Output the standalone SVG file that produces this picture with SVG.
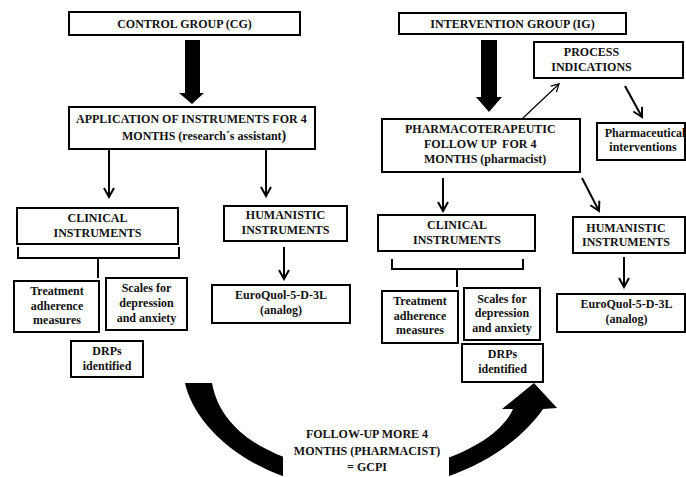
<svg xmlns="http://www.w3.org/2000/svg" width="686" height="477" viewBox="0 0 686 477">
<style>
.box{fill:#fff;stroke:#000;stroke-width:2}
.t{font-family:'Liberation Serif',Tinos,'Times New Roman',Times,'DejaVu Serif',serif;font-weight:700;font-size:12px;fill:#111;text-anchor:middle}
.s{text-anchor:start;white-space:pre}
.ln{fill:none;stroke:#000;stroke-width:2}
.thin{fill:none;stroke:#000;stroke-width:1.2}
.blk{fill:#000;stroke:none}
</style>
<defs>
<marker id="ah" viewBox="0 0 12 12" refX="10" refY="6" markerWidth="12" markerHeight="12" markerUnits="userSpaceOnUse" orient="auto">
<path d="M1,1 L10,6 L1,11" fill="none" stroke="#000" stroke-width="2"/>
</marker>
<marker id="ahs" viewBox="0 0 12 12" refX="10" refY="6" markerWidth="10" markerHeight="10" markerUnits="userSpaceOnUse" orient="auto">
<path d="M1,1 L10,6 L1,11" fill="none" stroke="#000" stroke-width="1.5"/>
</marker>
</defs>
<rect width="686" height="477" fill="#fff"/>

<g id="connectors">
<path class="blk" d="M185,40 H200 V93 H204 L192,104 L179,93 H185 Z"/>
<path class="blk" d="M481,40 H497 V97 H502 L489,112 L476,97 H481 Z"/>
<line class="ln" x1="109" y1="149" x2="109" y2="197" marker-end="url(#ah)"/>
<line class="ln" x1="266" y1="149" x2="266" y2="196" marker-end="url(#ah)"/>
<line class="ln" x1="284" y1="247" x2="284" y2="279" marker-end="url(#ah)"/>
<path class="ln" d="M18,247 V258 H179 V247 M98,258 V278"/>
<line class="ln" x1="443" y1="178" x2="443" y2="211" marker-end="url(#ah)"/>
<line class="ln" x1="582" y1="178" x2="599" y2="211" marker-end="url(#ah)"/>
<line class="ln" x1="624" y1="257" x2="624" y2="287" marker-end="url(#ah)"/>
<path class="ln" d="M392,259 V269 H523 V259 M457,269 V287"/>
<line class="thin" x1="522" y1="119" x2="559" y2="84" marker-end="url(#ahs)"/>
<line class="ln" x1="625" y1="86" x2="642" y2="117" marker-end="url(#ah)"/>
<path class="blk" d="M185,383 C195,430 260,490 365,490 C450,490 515,450 543,409 L557,408 L534,383 L502,409 L513,409 C500,440 440,472 365,472 C290,470 222,440 212,383 Z"/>
</g>

<g id="cg">
<rect class="box" x="69" y="12" width="231" height="23"/>
<text class="t" x="184.5" y="28">CONTROL GROUP (CG)</text>
</g>
<g id="ig">
<rect class="box" x="399" y="13" width="227" height="21"/>
<text class="t" x="512.5" y="28">INTERVENTION GROUP (IG)</text>
</g>
<g id="application">
<rect class="box" x="69" y="107" width="246" height="42"/>
<text class="t s" x="76" y="123">APPLICATION OF INSTRUMENTS FOR 4</text>
<text class="t s" x="122" y="140">MONTHS (research´s assistant<tspan font-size="14">)</tspan></text>
</g>
<g id="cg-clinical">
<rect class="box" x="17" y="208" width="161" height="36"/>
<text class="t" x="97.5" y="222">CLINICAL</text>
<text class="t" x="97.5" y="237">INSTRUMENTS</text>
</g>
<g id="cg-treatment">
<rect class="box" x="14" y="281" width="85" height="51"/>
<text class="t" x="57" y="295">Treatment</text>
<text class="t" x="57" y="309.5">adherence</text>
<text class="t" x="57" y="324">measures</text>
</g>
<g id="cg-scales">
<rect class="box" x="106" y="278" width="81" height="52"/>
<text class="t" x="146.5" y="292">Scales for</text>
<text class="t" x="146.5" y="307">depression</text>
<text class="t" x="146.5" y="322">and anxiety</text>
</g>
<g id="cg-drps">
<rect class="box" x="71" y="341" width="72" height="36"/>
<text class="t" x="107" y="355">DRPs</text>
<text class="t" x="107" y="370">identified</text>
</g>
<g id="cg-humanistic">
<rect class="box" x="224" y="206" width="123" height="35"/>
<text class="t" x="285.5" y="219">HUMANISTIC</text>
<text class="t" x="285.5" y="234">INSTRUMENTS</text>
</g>
<g id="cg-euroquol">
<rect class="box" x="212" y="285" width="138" height="38"/>
<text class="t" x="281" y="299">EuroQuol-5-D-3L</text>
<text class="t" x="281" y="314">(analog)</text>
</g>
<g id="process">
<rect class="box" x="534" y="42" width="149" height="36"/>
<text class="t" x="591.5" y="56">PROCESS</text>
<text class="t" x="591.5" y="71">INDICATIONS</text>
</g>
<g id="pharmaco">
<rect class="box" x="382" y="119" width="198" height="53"/>
<text class="t s" x="405" y="133">PHARMACOTERAPEUTIC</text>
<text class="t s" x="424" y="148">FOLLOW UP  FOR 4</text>
<text class="t s" x="424" y="163">MONTHS (pharmacist)</text>
</g>
<g id="pharm-interventions">
<rect class="box" x="597" y="123" width="88" height="37"/>
<text class="t" x="645" y="137">Pharmaceutical</text>
<text class="t" x="643" y="151">interventions</text>
</g>
<g id="ig-clinical">
<rect class="box" x="378" y="215" width="157" height="36"/>
<text class="t" x="457" y="229">CLINICAL</text>
<text class="t" x="457" y="244">INSTRUMENTS</text>
</g>
<g id="ig-treatment">
<rect class="box" x="382" y="291" width="76" height="52"/>
<text class="t" x="420" y="305">Treatment</text>
<text class="t" x="420" y="320">adherence</text>
<text class="t" x="420" y="334">measures</text>
</g>
<g id="ig-scales">
<rect class="box" x="464" y="288" width="76" height="52"/>
<text class="t" x="502" y="303">Scales for</text>
<text class="t" x="502" y="317">depression</text>
<text class="t" x="502" y="332">and anxiety</text>
</g>
<g id="ig-drps">
<rect class="box" x="462" y="344" width="81" height="38"/>
<text class="t" x="502.5" y="358">DRPs</text>
<text class="t" x="502.5" y="373">identified</text>
</g>
<g id="ig-humanistic">
<rect class="box" x="573" y="217" width="112" height="36"/>
<text class="t" x="626" y="232">HUMANISTIC</text>
<text class="t" x="626" y="246">INSTRUMENTS</text>
</g>
<g id="ig-euroquol">
<rect class="box" x="557" y="294" width="128" height="38"/>
<text class="t" x="626.5" y="308">EuroQuol-5-D-3L</text>
<text class="t" x="626.5" y="323">(analog)</text>
</g>
<g id="followup">
<rect x="283" y="426" width="166" height="51" fill="#fff"/>
<text class="t" x="367" y="438">FOLLOW-UP MORE 4</text>
<text class="t" x="367" y="455">MONTHS (PHARMACIST)</text>
<text class="t" x="367" y="471">= GCPI</text>
</g>
</svg>
